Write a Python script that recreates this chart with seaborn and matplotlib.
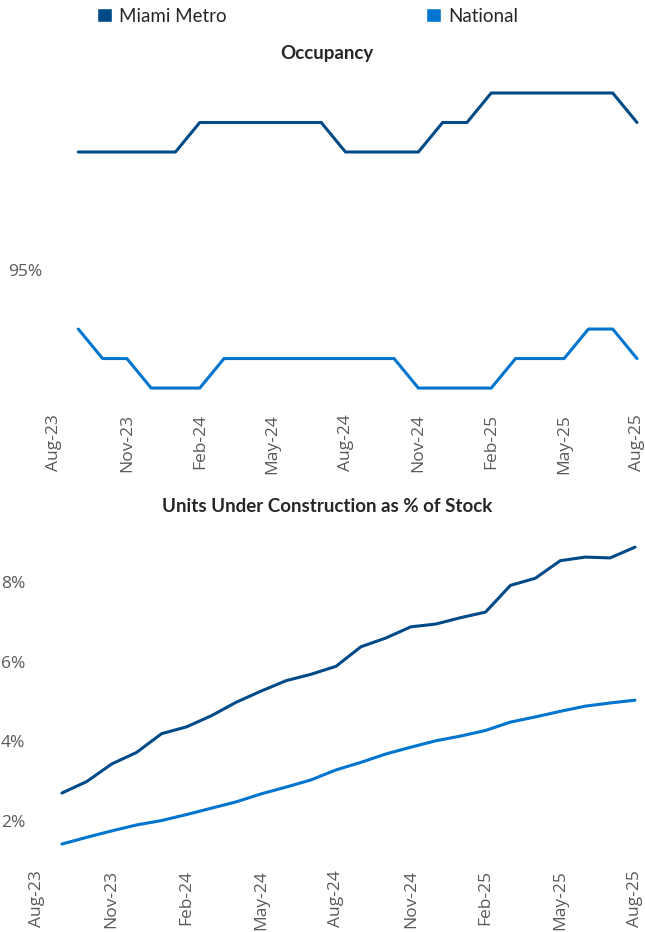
import pandas as pd
import numpy as np
import matplotlib.pyplot as plt
import seaborn as sns
from matplotlib.patches import Patch
from matplotlib.ticker import FuncFormatter

# =========================
# 1. DATA
# =========================

# x axis runs Aug-23 .. Aug-25, series start at Sep-23
axis_months = pd.date_range("2023-08-01", "2025-08-01", freq="MS")
axis_labels = list(axis_months.strftime("%b-%y"))
data_months = axis_labels[1:]

miami_occupancy = [95.4, 95.4, 95.4, 95.4, 95.4, 95.5, 95.5, 95.5, 95.5, 95.5,
                   95.5, 95.4, 95.4, 95.4, 95.4, 95.5, 95.5, 95.6, 95.6, 95.6,
                   95.6, 95.6, 95.6, 95.5]
national_occupancy = [94.8, 94.7, 94.7, 94.6, 94.6, 94.6, 94.7, 94.7, 94.7, 94.7,
                      94.7, 94.7, 94.7, 94.7, 94.6, 94.6, 94.6, 94.6, 94.7, 94.7,
                      94.7, 94.8, 94.8, 94.7]

miami_construction = [2.70, 2.99, 3.43, 3.72, 4.19, 4.36, 4.64, 4.98, 5.26, 5.52,
                      5.68, 5.88, 6.37, 6.59, 6.87, 6.94, 7.10, 7.24, 7.91, 8.09,
                      8.53, 8.62, 8.60, 8.87]
national_construction = [1.42, 1.59, 1.75, 1.90, 2.01, 2.16, 2.32, 2.48, 2.68, 2.85,
                         3.03, 3.28, 3.47, 3.68, 3.85, 4.01, 4.13, 4.27, 4.48, 4.61,
                         4.75, 4.88, 4.96, 5.03]

markets = ["Miami Metro", "National"]
colors = {"Miami Metro": "#004a87", "National": "#0075cf"}

# =========================
# 2. LONG FORMAT TABLES
# =========================

pos = [axis_labels.index(m) for m in data_months]

occ_df = pd.DataFrame({
    "pos": pos * 2,
    "value": miami_occupancy + national_occupancy,
    "market": ["Miami Metro"] * len(pos) + ["National"] * len(pos),
})

con_df = pd.DataFrame({
    "pos": pos * 2,
    "value": miami_construction + national_construction,
    "market": ["Miami Metro"] * len(pos) + ["National"] * len(pos),
})

# =========================
# 3. PLOT
# =========================

sns.set_style("white")
plt.rcParams["font.family"] = ["Open Sans", "DejaVu Sans"]

text_gray = "#595959"
tick_gray = "#d9d9d9"
title_color = "#262626"

fig = plt.figure(figsize=(6.45, 9.32), dpi=100)
ax1 = fig.add_axes([50 / 645, 1 - 404 / 932, 591 / 645, 324 / 932])
ax2 = fig.add_axes([33 / 645, 1 - 860 / 932, 608 / 645, 330 / 932])

for ax, df in [(ax1, occ_df), (ax2, con_df)]:
    sns.lineplot(data=df, x="pos", y="value", hue="market", hue_order=markets,
                 palette=colors, linewidth=2.2, legend=False, ax=ax)
    ax.set_xlabel("")
    ax.set_ylabel("")
    sns.despine(ax=ax, left=True, bottom=True)
    ax.set_xticks(range(0, len(axis_labels), 3))
    ax.set_xticklabels(axis_labels[::3], rotation=90)
    ax.set_xticks(range(len(axis_labels)), minor=True)
    ax.tick_params(axis="x", which="both", length=4, width=1, color=tick_gray,
                   labelsize=12.5, labelcolor=text_gray, pad=3)
    ax.tick_params(axis="y", length=4, width=1, color=tick_gray,
                   labelsize=12.5, labelcolor=text_gray, pad=1.5)
    ax.yaxis.set_major_formatter(FuncFormatter(lambda v, p: f"{v:.0f}%"))

# Occupancy
ax1.set_xlim(-0.165, 24.165)
ax1.set_ylim(94.546, 95.644)
ax1.set_yticks([95])
fig.text(327 / 645, 1 - 53 / 932, "Occupancy", ha="center", va="center",
         fontsize=13.5, fontweight="bold", color=title_color, family="Lato")

# Construction
ax2.set_xlim(-0.16, 24.24)
ax2.set_ylim(1.02, 9.3)
ax2.set_yticks([2, 4, 6, 8])
fig.text(327 / 645, 1 - 507 / 932, "Units Under Construction as % of Stock",
         ha="center", va="center", fontsize=13.5, fontweight="bold",
         color=title_color, family="Lato")

# Legend
handles = [Patch(facecolor=colors[m], label=m) for m in markets]
fig.legend(handles=handles, loc="upper left", bbox_to_anchor=(80 / 645, 1.01),
           ncol=2, frameon=False, prop={"family": "Lato", "size": 13.5},
           labelcolor=title_color, handlelength=0.8, handleheight=0.8,
           handletextpad=0.4, columnspacing=10.6)

plt.savefig("out.png", dpi=100)
plt.close()
